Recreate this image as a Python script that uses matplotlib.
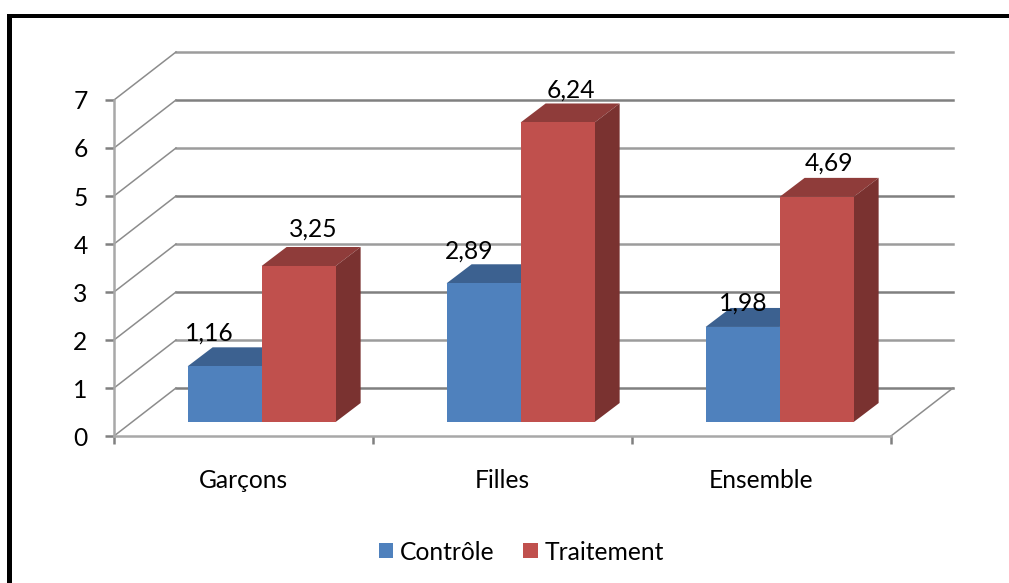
import numpy as np
import matplotlib
matplotlib.use("Agg")
import matplotlib.pyplot as plt
from matplotlib.patches import Rectangle

plt.rcParams['font.family'] = ['Lato', 'DejaVu Sans']

categories = ['Garçons', 'Filles', 'Ensemble']
controle = [1.16, 2.89, 1.98]
traitement = [3.25, 6.24, 4.69]
controle_labels = ['1,16', '2,89', '1,98']
traitement_labels = ['3,25', '6,24', '4,69']
y_ticks = [0, 1, 2, 3, 4, 5, 6, 7]

W, H = 1009, 583
fig = plt.figure(figsize=(W/100, H/100), dpi=100)
fig.patch.set_facecolor('white')

# axes = front plane of the 3D box, units are categories / values
ax = fig.add_axes([114/W, (H-436)/H, 777/W, 336/H])
ax.set_xlim(0, 3)
ax.set_ylim(0, 7)
ax.patch.set_alpha(0)

# depth of the box and of the bars, in data units
box_dx, box_dy = 62/259, 1.0
bar_dx, bar_dy = 25/259, 19/48
lift = 14/48  # bars stand a little behind the front edge
w = 74/259
centre = 0.57
fs = 17.7

# back wall and left wall lines
for v in y_ticks:
    col = '#808080' if v % 2 == 0 else '#9c9c9c'
    ax.plot([box_dx, 3+box_dx], [v+box_dy, v+box_dy], color=col, lw=1.8, clip_on=False, zorder=1)
    ax.plot([0, box_dx], [v, v+box_dy], color='#8c8c8c', lw=1.1, clip_on=False, zorder=1)
ax.plot([3, 3+box_dx], [0, box_dy], color='#8c8c8c', lw=1.1, clip_on=False, zorder=1)

x = np.arange(3) + centre
b1 = ax.bar(x-w/2, controle, w, bottom=lift, color='#4f81bd', label='Contrôle', zorder=3, clip_on=False)
b2 = ax.bar(x+w/2, traitement, w, bottom=lift, color='#c0504d', label='Traitement', zorder=5, clip_on=False)


def depth(bar, top_col, side_col, z):
    # top and right faces of one bar
    x0, x1 = bar.get_x(), bar.get_x()+bar.get_width()
    y0, y1 = bar.get_y(), bar.get_y()+bar.get_height()
    ax.fill([x0, x0+bar_dx, x1+bar_dx, x1], [y1, y1+bar_dy, y1+bar_dy, y1],
            color=top_col, lw=0, zorder=z, clip_on=False)
    ax.fill([x1, x1+bar_dx, x1+bar_dx, x1], [y0, y0+bar_dy, y1+bar_dy, y1],
            color=side_col, lw=0, zorder=z, clip_on=False)


for b in b1:
    depth(b, '#3c6190', '#30507a', 2)
for b in b2:
    depth(b, '#8f3c3a', '#7a3230', 4)

# value labels, nudged by hand like in the spreadsheet
offs1 = [(-15, 33), (-15, 32), (1, 24)]
offs2 = [(15, 37), (13, 32), (12, 34)]
for i in range(3):
    ax.annotate(controle_labels[i], (x[i]-w/2, controle[i]+lift), xytext=(offs1[i][0]*.72, offs1[i][1]*.72),
                textcoords='offset points', ha='center', va='center', fontsize=fs, color='black', zorder=7)
    ax.annotate(traitement_labels[i], (x[i]+w/2, traitement[i]+lift), xytext=(offs2[i][0]*.72, offs2[i][1]*.72),
                textcoords='offset points', ha='center', va='center', fontsize=fs, color='black', zorder=7)

for s in ['top', 'right']:
    ax.spines[s].set_visible(False)
for s in ['left', 'bottom']:
    ax.spines[s].set_color('#a8a8a8')
    ax.spines[s].set_linewidth(1.8)

ax.set_yticks(y_ticks)
ax.set_yticklabels([str(v) for v in y_ticks], fontsize=fs)
ax.set_xticks([0, 1, 2, 3])
ax.set_xticklabels([])
ax.set_xticks([0.5, 1.5, 2.5], minor=True)
ax.set_xticklabels(categories, minor=True, fontsize=fs)
ax.tick_params(axis='y', length=6.5, width=1.8, color='#808080', pad=12.5)
ax.tick_params(axis='x', which='major', length=6, width=1.8, color='#808080')
ax.tick_params(axis='x', which='minor', length=0, pad=24)

fig.legend(handles=[b1, b2], loc='center', bbox_to_anchor=(521.5/W, 1-552/H), ncol=2, frameon=False,
           fontsize=fs, handlelength=0.58, handleheight=0.58, handletextpad=0.3, columnspacing=1.15)

# black frame around the chart
fig.add_artist(Rectangle((7/W, 0), 5/W, 1-14/H, transform=fig.transFigure, color='black', lw=0))
fig.add_artist(Rectangle((7/W, 1-18/H), 1-7/W, 4/H, transform=fig.transFigure, color='black', lw=0))

fig.savefig('out.png', dpi=100)
